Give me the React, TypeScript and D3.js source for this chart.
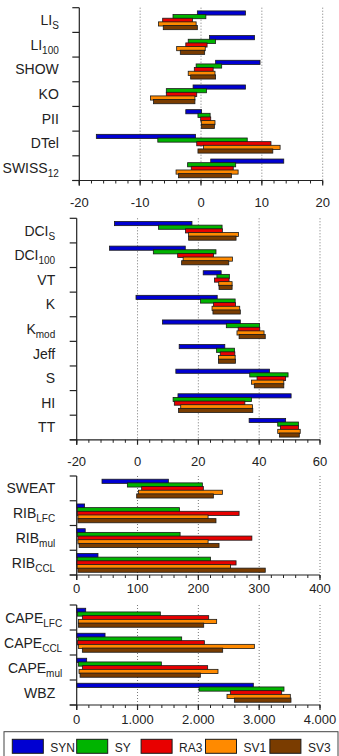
import React from "react";
import * as d3 from "d3";

// series shown in every panel
const series = ["SYN", "SY", "RA3", "SV1", "SV3"];
const colors = ["#0000d2", "#00b400", "#e80000", "#ff8a00", "#7a3c00"];

// panel 1 - stability indices
const labels1 = ["LI_S", "LI_100", "SHOW", "KO", "PII", "DTel", "SWISS_12"];
const p1Syn = [[-0.6, 7.3], [1.4, 8.8], [2.4, 9.7], [-1.3, 7.3], [-2.5, 0.1], [-17.2, -0.9], [1.6, 13.6]];
const p1Sy = [[-4.6, 0.8], [-2.1, 2.4], [-0.8, 3.4], [-5.7, 0.9], [-0.5, 1.5], [-7.1, 7.6], [-2.2, 5.7]];
const p1Ra3 = [[-6.3, -1.4], [-2.5, 1.0], [-1.1, 2.0], [-5.7, -0.7], [-0.05, 1.6], [-0.7, 11.5], [-1.6, 5.3]];
const p1Sv1 = [[-7.0, -0.8], [-4.0, 0.7], [-2.1, 2.3], [-8.3, -1.0], [0.05, 2.3], [0.4, 13.0], [-4.1, 6.1]];
const p1Sv3 = [[-6.2, -0.6], [-3.4, 0.6], [-1.7, 2.4], [-7.8, -1.0], [0.05, 2.2], [-0.5, 11.8], [-3.7, 5.0]];
const ticks1 = [-20, -10, 0, 10, 20];

// panel 2
const labels2 = ["DCI_S", "DCI_100", "VT", "K", "K_mod", "Jeff", "S", "HI", "TT"];
const p2Syn = [[-7.6, 17.9], [-9.2, 15.7], [21.6, 27.5], [-0.5, 26.2], [8.2, 33.8], [13.7, 28.7], [12.6, 43.4], [13.3, 50.5], [36.7, 48.7]];
const p2Sy = [[6.9, 27.8], [5.2, 25.8], [26.1, 30.2], [20.7, 32.1], [29.2, 40.1], [26.0, 31.9], [36.9, 49.5], [11.7, 37.5], [46.1, 52.9]];
const p2Ra3 = [[15.8, 27.9], [13.2, 25.0], [25.3, 30.1], [25.0, 32.2], [33.1, 40.2], [27.2, 32.0], [39.3, 48.7], [12.1, 35.3], [47.0, 52.9]];
const p2Sv1 = [[16.8, 33.2], [15.0, 31.2], [26.7, 31.1], [24.5, 33.6], [32.7, 41.6], [26.6, 32.1], [37.5, 48.1], [14.2, 37.8], [46.1, 53.5]];
const p2Sv3 = [[16.8, 32.4], [14.5, 30.0], [26.8, 31.1], [24.8, 33.8], [33.4, 42.0], [26.6, 32.2], [38.4, 48.1], [13.5, 37.9], [46.7, 53.2]];
const ticks2 = [-20, 0, 20, 40, 60];

// panel 3
const labels3 = ["SWEAT", "RIB_LFC", "RIB_mul", "RIB_CCL"];
const p3Syn = [[41.6, 150.7], [0, 13], [0, 14], [0, 35]];
const p3Sy = [[83.3, 206.6], [1, 169], [1, 170], [1, 220]];
const p3Ra3 = [[106.8, 208.2], [1, 267], [2, 288], [0, 262]];
const p3Sv1 = [[101.4, 239.5], [2, 216], [2, 216], [0.5, 253]];
const p3Sv3 = [[98.6, 224.7], [2, 229], [4, 234], [2, 310]];
const ticks3 = [0, 100, 200, 300, 400];

// panel 4
const labels4 = ["CAPE_LFC", "CAPE_CCL", "CAPE_mul", "WBZ"];
const p4Syn = [[0, 148], [0, 466], [0, 164], [0, 2904]];
const p4Sy = [[11, 1375], [22, 1726], [27, 1392], [2011, 3408]];
const p4Ra3 = [[93, 2170], [11, 2099], [93, 2153], [2526, 3370]];
const p4Sv1 = [[27, 2301], [27, 2921], [38, 2323], [2471, 3512]];
const p4Sv3 = [[27, 2088], [93, 2400], [55, 2033], [2592, 3523]];
const ticks4 = [0, 1000, 2000, 3000, 4000];

const deLocale = d3.formatLocale({ decimal: ",", thousands: ".", grouping: [3], currency: ["", ""] });
const fmtThousands = deLocale.format(",");

const FONT = "'Liberation Sans', Arial, Helvetica, sans-serif";

// layout per panel (gap = distance of label end from the y axis, subGap for labels with subscript)
const panels = [
  { labels: labels1, data: [p1Syn, p1Sy, p1Ra3, p1Sv1, p1Sv3], ticks: ticks1, minor: 2, left: 79.3, right: 322.7, top: 7.7, bottom: 180.5, lab: 21.5, gap: 20.5, subGap: 20.5, fmt: (d) => String(d) },
  { labels: labels2, data: [p2Syn, p2Sy, p2Ra3, p2Sv1, p2Sv3], ticks: ticks2, minor: 4, left: 76.7, right: 320, top: 218.3, bottom: 439.8, lab: 21.5, gap: 21.5, subGap: 21.5, fmt: (d) => String(d) },
  { labels: labels3, data: [p3Syn, p3Sy, p3Ra3, p3Sv1, p3Sv3], ticks: ticks3, minor: 20, left: 76.7, right: 320, top: 476, bottom: 575, lab: 13.5, gap: 21.5, subGap: 21.5, fmt: (d) => String(d) },
  { labels: labels4, data: [p4Syn, p4Sy, p4Ra3, p4Sv1, p4Sv3], ticks: ticks4, minor: 200, left: 76.7, right: 320, top: 605, bottom: 705, lab: 14, gap: 21.5, subGap: 14.5, fmt: (d) => fmtThousands(d) },
];

function CatLabel({ label, x, y }) {
  const [main, sub] = label.split("_");
  return (
    <text x={x} y={y} textAnchor="end" fontSize={14} fill="#222" fontFamily={FONT}>
      {main}
      {sub && (
        <tspan fontSize={10} dy={4}>
          {sub}
        </tspan>
      )}
    </text>
  );
}

function Panel({ p }) {
  const x = d3.scaleLinear().domain(d3.extent(p.ticks)).range([p.left, p.right]);
  const y = d3.scaleBand().domain(p.labels).range([p.top, p.bottom]);
  const bw = y.bandwidth();
  const sub = d3.scaleBand().domain(series).range([bw * 0.13, bw * 0.87]);
  const bh = sub.step() + 0.5;
  const [lo, hi] = x.domain();
  const minors = d3.range(lo, hi + p.minor / 2, p.minor);
  const bounds = p.labels.map((l) => y(l)).concat([p.bottom]);

  return (
    <g>
      {/* dotted grid */}
      {p.ticks.slice(1).map((t) => (
        <line key={"g" + t} x1={x(t)} x2={x(t)} y1={p.top} y2={p.bottom} stroke="#555" strokeWidth={0.8} strokeDasharray="1,2" />
      ))}
      {/* bars */}
      {p.data.map((vals, si) =>
        vals.map((v, i) => (
          <rect
            key={si + "-" + i}
            x={x(v[0])}
            width={Math.max(0.5, x(v[1]) - x(v[0]))}
            y={y(p.labels[i]) + sub(series[si])}
            height={bh}
            fill={colors[si]}
            stroke="#1a1a1a"
            strokeWidth={0.8}
          />
        ))
      )}
      {/* axes */}
      <line x1={p.left} x2={p.left} y1={p.top} y2={p.bottom + 5} stroke="#222" strokeWidth={1.2} />
      <line x1={p.left - 7} x2={p.right} y1={p.bottom} y2={p.bottom} stroke="#222" strokeWidth={1.2} />
      {bounds.map((b, i) => (
        <line key={"yt" + i} x1={p.left - 7} x2={p.left} y1={b} y2={b} stroke="#222" strokeWidth={1.2} />
      ))}
      {minors.map((m) => (
        <line key={"mt" + m} x1={x(m)} x2={x(m)} y1={p.bottom} y2={p.bottom + 3} stroke="#222" strokeWidth={1} />
      ))}
      {p.ticks.map((t) => (
        <g key={"t" + t}>
          <line x1={x(t)} x2={x(t)} y1={p.bottom} y2={p.bottom + 5} stroke="#222" strokeWidth={1.2} />
          <text x={x(t)} y={p.bottom + p.lab + 4.6} textAnchor="middle" fontSize={13} fill="#222" fontFamily={FONT}>
            {p.fmt(t)}
          </text>
        </g>
      ))}
      {p.labels.map((l) => (
        <CatLabel key={l} label={l} x={p.left - (l.includes("_") ? p.subGap : p.gap)} y={y(l) + bw / 2 + 5} />
      ))}
    </g>
  );
}

function Legend() {
  const lx = d3.scaleBand().domain(series).range([12.3, 12.3 + 5 * 64.4]);
  return (
    <g>
      <rect x={4} y={731.7} width={334} height={30} fill="#fff" stroke="#444" strokeWidth={1} />
      {series.map((s, i) => (
        <g key={s}>
          <rect x={lx(s)} y={739.3} width={31} height={14} fill={colors[i]} stroke="#1a1a1a" strokeWidth={1} />
          <text x={lx(s) + 38} y={751.5} fontSize={12} fill="#222" fontFamily={FONT}>
            {s}
          </text>
        </g>
      ))}
    </g>
  );
}

export default function App() {
  return (
    <svg width={339} height={756} style={{ position: "absolute", left: 0, top: 0, background: "#fff" }}>
      {panels.map((p, i) => (
        <Panel key={i} p={p} />
      ))}
      <Legend />
    </svg>
  );
}
